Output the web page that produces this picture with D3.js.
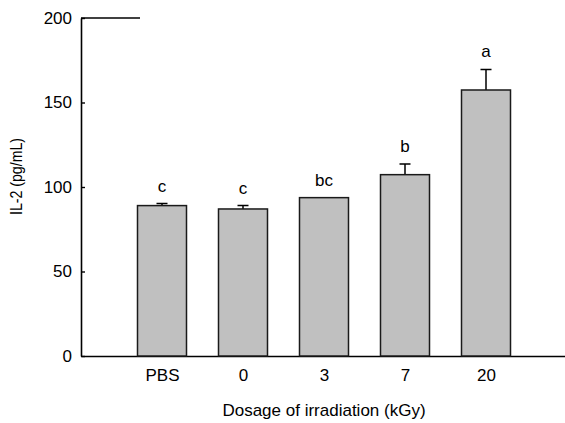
<!DOCTYPE html>
<html>
<head>
<meta charset="utf-8">
<script src="https://cdn.jsdelivr.net/npm/d3@7"></script>
<style>
  body { margin: 0; background: #fff; }
  text { font-family: "Liberation Sans", Arial, sans-serif; fill: #000; }
</style>
</head>
<body>
<div class="wrapper"></div>
<script>
// data
const groups = ["PBS", "0", "3", "7", "20"]
const il2 = [89, 87, 93.7, 107.3, 157.4]
const errs = [1.2, 2.0, 0, 6.3, 12.2]
const letters = ["c", "c", "bc", "b", "a"]
const yTicks = [0, 50, 100, 150, 200]

let width = 565
let height = 423

let svg = d3.select(".wrapper")
.append("svg")
.attr("width", width)
.attr("height", height)

let x = d3.scaleLinear()
.domain([0, groups.length + 1])
.range([81, 567])

let y = d3.scaleLinear()
.domain([0, 200])
.range([356, 18])

let barW = 49

// left axis, ticks pointing inside
let yAxis = svg.append("g")
.attr("transform", "translate(81,0)")
.call(d3.axisLeft(y).tickValues(yTicks).tickSizeInner(-4).tickSizeOuter(0).tickPadding(9))

yAxis.select(".domain").attr("stroke-width", 1.6)
yAxis.selectAll(".tick line").attr("stroke-width", 1.4)
yAxis.selectAll("text").style("font-size", "17px")

// bottom axis, no ticks
let xAxis = svg.append("g")
.attr("transform", "translate(0,356)")
.call(d3.axisBottom(x).tickValues(groups.map((g, i) => i + 1)).tickFormat((d, i) => groups[i]).tickSize(0).tickPadding(13))

xAxis.select(".domain").attr("stroke-width", 1.6)
xAxis.selectAll("text").style("font-size", "17px")

// short top line of the frame
svg.append("line")
.attr("x1", 81).attr("x2", 140)
.attr("y1", y(200)).attr("y2", y(200))
.attr("stroke", "#000")
.attr("stroke-width", 1.4)

// error bars (drawn first so the bar outline sits over them)
svg.selectAll(".err")
.data(il2)
.enter()
.append("path")
.attr("class", "err")
.attr("fill", "none")
.attr("stroke", "#000")
.attr("stroke-width", 1.5)
.attr("d", (d, i) => {
  let cx = x(i + 1)
  let top = y(d + errs[i])
  return errs[i] > 0 ? `M${cx},${y(d)}V${top}M${cx - 5.5},${top}H${cx + 5.5}` : ""
})

svg.selectAll(".bar")
.data(il2)
.enter()
.append("rect")
.attr("class", "bar")
.attr("x", (d, i) => x(i + 1) - barW / 2)
.attr("width", barW)
.attr("y", d => y(d))
.attr("height", d => y(0) - y(d))
.attr("fill", "#c0c0c0")
.attr("stroke", "#1a1a1a")
.attr("stroke-width", 1.5)

svg.selectAll(".letter")
.data(letters)
.enter()
.append("text")
.attr("class", "letter")
.attr("x", (d, i) => x(i + 1))
.attr("y", (d, i) => y(il2[i] + errs[i]) - 12)
.attr("text-anchor", "middle")
.style("font-size", "17px")
.text(d => d)

svg.append("text")
.attr("x", x(3))
.attr("y", 416)
.attr("text-anchor", "middle")
.style("font-size", "17px")
.text("Dosage of irradiation (kGy)")

svg.append("text")
.attr("transform", "translate(22,176.5) rotate(-90)")
.attr("text-anchor", "middle")
.attr("textLength", 77)
.attr("lengthAdjust", "spacingAndGlyphs")
.style("font-size", "17px")
.text("IL-2 (pg/mL)")
</script>
</body>
</html>
